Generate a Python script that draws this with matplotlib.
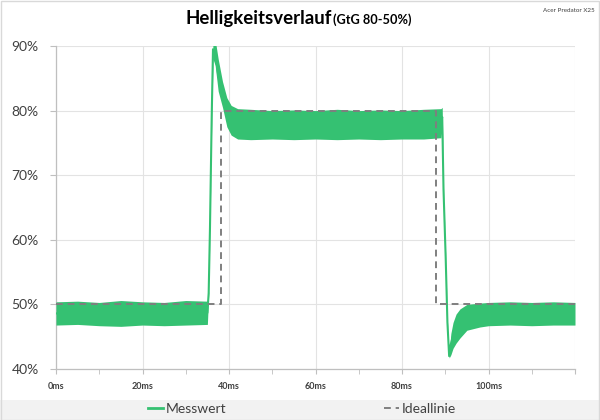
import matplotlib
matplotlib.use("Agg")
import matplotlib.pyplot as plt
from matplotlib.lines import Line2D
from matplotlib.patches import Rectangle
import numpy as np

# ---- data ----
# measured trace: time (ms), upper and lower envelope of the noisy signal (%)
t_meas = [0, 5, 10, 15, 20, 25, 30, 35.0, 35.3, 35.6, 36.0, 36.3, 36.8, 37.5, 38.5, 39.5, 40.5, 42,
          45, 50, 55, 60, 65, 70, 75, 80, 85, 89.0, 89.3, 89.6, 90.1, 90.5, 90.9, 91.3, 91.8,
          92.5, 93.4, 95, 98, 100, 105, 110, 115, 120]
upper = [50.4, 50.5, 50.3, 50.6, 50.4, 50.3, 50.6, 50.5, 52.0, 62.0, 80.0, 91.0, 91.0, 88.0, 84.5, 82.0, 80.8, 80.3,
         80.2, 80.0, 80.1, 80.0, 80.2, 80.0, 80.1, 80.0, 80.2, 80.3, 80.5, 68.0, 57.5, 47.5, 42.3, 45.5, 47.2,
         48.5, 49.3, 50.0, 50.2, 50.3, 50.4, 50.3, 50.4, 50.3]
lower = [46.8, 46.9, 46.7, 46.6, 46.8, 46.7, 46.8, 46.9, 51.5, 61.5, 78.0, 88.0, 87.0, 83.0, 80.5, 77.5, 76.2, 75.6,
         75.5, 75.6, 75.5, 75.6, 75.5, 75.6, 75.5, 75.6, 75.6, 75.8, 77.5, 67.5, 57.0, 47.0, 41.7, 42.2, 43.2,
         44.0, 44.8, 46.0, 46.5, 46.7, 46.8, 46.7, 46.8, 46.8]

# ideal line
t_ideal = [0, 38.1, 38.1, 87.9, 87.9, 120]
v_ideal = [50, 50, 80, 80, 50, 50]

x_ticks = [0, 20, 40, 60, 80, 100, 120]
x_labels = ["0ms", "20ms", "40ms", "60ms", "80ms", "100ms", ""]
y_ticks = [40, 50, 60, 70, 80, 90]
y_labels = ["40%", "50%", "60%", "70%", "80%", "90%"]

GREEN = "#35c172"
FONT = ["Lato", "DejaVu Sans"]
plt.rcParams["font.family"] = FONT

fig = plt.figure(figsize=(6, 4.2), dpi=100)
fig.patch.set_facecolor("white")

# legend band and border
fig.patches.append(Rectangle((0, 0), 1, 20 / 420, transform=fig.transFigure,
                             facecolor="#f2f2f2", edgecolor="none", zorder=0))
fig.patches.append(Rectangle((0.001, 0.001), 0.998, 0.997, transform=fig.transFigure,
                             facecolor="none", edgecolor="#d9d9d9", lw=1, zorder=1))

ax = fig.add_axes([56 / 600, 1 - 369 / 420, (575 - 56) / 600, (369 - 46) / 420])
ax.set_facecolor("white")

tm = np.array(t_meas)
up = np.array(upper)
lo = np.array(lower)
ax.fill_between(tm, lo, up, color=GREEN, lw=0, zorder=2)
ax.plot(tm, (up + lo) / 2, color=GREEN, lw=1.5, zorder=2)
ax.plot(t_ideal, v_ideal, color="#7f7f7f", lw=1.4, ls=(0, (3.5, 2.5)), zorder=3)

ax.set_xlim(0, 120)
ax.set_ylim(40, 90)
ax.set_xticks(x_ticks)
ax.set_xticklabels(x_labels, fontsize=6.5, fontweight="bold", color="#404040")
ax.set_xticks([10, 30, 50, 70, 90, 110], minor=True)
ax.set_yticks(y_ticks)
ax.set_yticklabels(y_labels, fontsize=10, color="#404040")
ax.grid(True, which="major", color="#e3e3e3", lw=0.8, zorder=0)
ax.set_axisbelow(True)
for s in ["top", "right"]:
    ax.spines[s].set_visible(False)
for s in ["left", "bottom"]:
    ax.spines[s].set_color("#bfbfbf")
    ax.spines[s].set_linewidth(0.9)
    ax.spines[s].set_zorder(1)
ax.tick_params(axis="x", which="both", direction="out", length=3.5, color="#bfbfbf", pad=6)
ax.tick_params(axis="y", which="major", direction="out", length=4.5, color="#bfbfbf", pad=8)

# title
renderer = fig.canvas.get_renderer()
t1 = fig.text(0, 1 - 24 / 420, "Helligkeitsverlauf", fontsize=13.4, fontweight="bold",
              color="black", ha="left", va="baseline")
t2 = fig.text(0, 1 - 24 / 420, "(GtG 80-50%)", fontsize=9.2, fontweight="bold",
              color="black", ha="left", va="baseline")
fig.canvas.draw()
w1 = t1.get_window_extent(renderer).width
w2 = t2.get_window_extent(renderer).width
total = w1 + 2 + w2
x0 = 298.5 - total / 2
t1.set_x(x0 / 600)
t2.set_x((x0 + w1 + 2) / 600)
fig.text(595 / 600, 1 - 10 / 420, "Acer Predator X25", fontsize=4.5, color="#404040",
         ha="right", va="center")

handles = [Line2D([], [], color=GREEN, lw=2),
           Line2D([], [], color="#7f7f7f", lw=1.4, ls=(0, (3.5, 2.5)))]
fig.legend(handles, ["Messwert", "Ideallinie"], loc="center", bbox_to_anchor=(302 / 600, 1 - 409 / 420),
           ncol=2, frameon=False, fontsize=10, handlelength=1.1, handletextpad=0.2,
           columnspacing=11.3, labelcolor="#404040", borderpad=0, borderaxespad=0)

fig.savefig("out.png", dpi=100, facecolor="white")
